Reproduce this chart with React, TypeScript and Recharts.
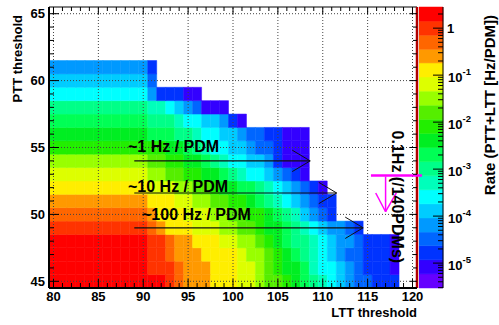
import React from 'react';
import { ComposedChart, XAxis, YAxis, ReferenceArea, ReferenceLine, ReferenceDot } from 'recharts';

const FONT = '"Liberation Sans", Arial, Helvetica, sans-serif';

// contour colours, lowest rate band first
const PALETTE = [
  '#6600ff', '#3300ff', '#0033ff', '#0066ff', '#0099ff', '#00ccff', '#00ffff', '#00ffbb', '#00ff88', '#00ff55',
  '#00ee22', '#22ee00', '#55ee00', '#99ff00', '#ddff00', '#ffee00', '#ff9900', '#ff6600', '#ff3300', '#ff0000',
];

// log10 of the contour edges on the colour bar
const BAND_EDGES = [
  -5.53, -5.23, -4.93, -4.63, -4.34, -4.04, -3.74, -3.44, -3.14, -2.84, -2.54,
  -2.24, -1.94, -1.64, -1.34, -1.04, -0.74, -0.45, -0.15, 0.15, 0.45,
];

const LTT_FIRST = 80;
const PTT_ROWS = [45, 46, 47, 48, 49, 50, 51, 52, 53, 54, 55, 56, 57, 58, 59, 60, 61];

// colour band of each cell, LTT threshold 80, 81, ... for one PTT threshold
const ptt45 = [19, 19, 19, 19, 19, 19, 19, 19, 19, 19, 19, 19, 19, 18, 17, 16, 16, 16, 15, 15, 15, 14, 14, 13, 12, 12, 11, 10, 9, 8, 7, 6, 5, 4, 3, 3, 2, 2, 2];
const ptt46 = [19, 19, 19, 19, 19, 19, 19, 19, 19, 19, 19, 18, 18, 18, 17, 16, 16, 16, 15, 15, 15, 14, 14, 13, 12, 11, 10, 10, 9, 7, 6, 6, 5, 4, 3, 2, 2, 2, 1];
const ptt47 = [19, 19, 19, 19, 19, 19, 19, 19, 19, 19, 19, 18, 18, 17, 16, 16, 16, 15, 15, 15, 15, 14, 13, 13, 12, 11, 10, 9, 8, 7, 6, 5, 4, 3, 3, 2, 2, 2, 1];
const ptt48 = [19, 19, 19, 19, 19, 19, 19, 19, 19, 19, 19, 18, 18, 17, 16, 16, 15, 15, 15, 14, 14, 13, 13, 12, 11, 10, 9, 8, 8, 7, 6, 5, 4, 4, 3, 2, 2, 2, 1];
const ptt49 = [18, 18, 18, 18, 18, 18, 18, 18, 18, 18, 18, 17, 16, 15, 15, 15, 14, 14, 14, 13, 13, 12, 12, 11, 10, 10, 9, 8, 7, 6, 5, 4, 4, 3, 2];
const ptt50 = [17, 17, 17, 17, 17, 17, 17, 17, 17, 17, 17, 16, 15, 15, 15, 14, 14, 14, 13, 13, 12, 12, 11, 11, 10, 9, 8, 7, 5, 4, 3, 2];
const ptt51 = [16, 16, 16, 16, 16, 16, 16, 16, 16, 16, 16, 15, 15, 15, 14, 14, 13, 13, 12, 12, 11, 11, 10, 9, 8, 7, 6, 5, 4, 3, 2, 2];
const ptt52 = [15, 15, 15, 15, 15, 15, 15, 15, 15, 15, 15, 14, 14, 14, 13, 13, 12, 12, 11, 10, 10, 9, 9, 8, 7, 6, 5, 4, 3, 2, 1];
const ptt53 = [14, 14, 14, 14, 14, 14, 14, 14, 14, 14, 14, 13, 13, 12, 12, 11, 11, 10, 10, 9, 8, 7, 6, 6, 5, 4, 3, 2, 1];
const ptt54 = [13, 13, 13, 13, 13, 13, 13, 13, 13, 13, 13, 12, 12, 11, 11, 10, 10, 9, 8, 7, 6, 6, 5, 5, 4, 2, 1, 1, 1];
const ptt55 = [11, 11, 11, 11, 11, 11, 11, 11, 11, 11, 11, 11, 11, 10, 10, 9, 8, 7, 6, 6, 5, 5, 4, 3, 3, 2, 1, 1, 1];
const ptt56 = [10, 10, 10, 10, 10, 10, 10, 10, 10, 10, 10, 9, 9, 9, 8, 8, 7, 6, 6, 5, 5, 4, 3, 3, 2, 2, 1, 1, 1];
const ptt57 = [9, 9, 9, 9, 9, 9, 9, 9, 9, 9, 9, 8, 8, 8, 7, 6, 6, 5, 5, 4, 2, 1];
const ptt58 = [8, 8, 8, 8, 8, 8, 8, 8, 8, 8, 8, 7, 7, 6, 5, 4, 3, 1, 1, 1];
const ptt59 = [6, 6, 6, 6, 6, 6, 6, 6, 6, 6, 6, 4, 2, 2, 2, 1, 1];
const ptt60 = [5, 5, 5, 5, 5, 5, 5, 5, 5, 5, 5, 3];
const ptt61 = [4, 4, 4, 4, 4, 4, 4, 4, 4, 4, 4, 2];

const RATE_BANDS = [ptt45, ptt46, ptt47, ptt48, ptt49, ptt50, ptt51, ptt52, ptt53, ptt54, ptt55, ptt56, ptt57, ptt58, ptt59, ptt60, ptt61];

const LTT_TICKS = [80, 81, 82, 83, 84, 85, 86, 87, 88, 89, 90, 91, 92, 93, 94, 95, 96, 97, 98, 99, 100,
  101, 102, 103, 104, 105, 106, 107, 108, 109, 110, 111, 112, 113, 114, 115, 116, 117, 118, 119, 120];
const PTT_TICKS = [45, 46, 47, 48, 49, 50, 51, 52, 53, 54, 55, 56, 57, 58, 59, 60, 61, 62, 63, 64, 65];
const LTT_GRID = [80, 85, 90, 95, 100, 105, 110, 115, 120];
const PTT_GRID = [45, 50, 55, 60, 65];
const RATE_DECADES = [1e-6, 1e-5, 1e-4, 1e-3, 1e-2, 1e-1, 1];
const MINOR_STEPS = [2, 3, 4, 5, 6, 7, 8, 9];

// annotated rate contours: text position, arrow height and span
const RATE_ARROWS = [
  { label: '~1 Hz / PDM', textLtt: 88.3, textPtt: 54.68, ptt: 54.0, from: 89.0, to: 108.6 },
  { label: '~10 Hz / PDM', textLtt: 88.3, textPtt: 51.71, ptt: 51.6, from: 89.0, to: 111.55 },
  { label: '~100 Hz / PDM', textLtt: 89.86, textPtt: 49.59, ptt: 49.0, from: 89.0, to: 114.5 },
];
// 0.1 Hz over 140 PDMs limit marker
const LIMIT = { ptt: 52.9, from: 115.37, to: 121.05, arrowLtt: 117.0, arrowTo: 50.2, textLtt: 117.71, textPtt: 51.31 };

const CHART_W = 499;
const CHART_H = 325;
const M_TOP = 7;
const M_RIGHT = 82;
const Y_W = 49;
const X_H = 37;
const PLOT_W = CHART_W - M_RIGHT - Y_W;
const PLOT_H = CHART_H - M_TOP - X_H;

const CELLS = RATE_BANDS.flatMap((row, r) =>
  row.map((band, i) => ({ ltt: LTT_FIRST + i, ptt: PTT_ROWS[r], band })));

const RATE_MIN = Math.pow(10, BAND_EDGES[0]);
const RATE_MAX = Math.pow(10, BAND_EDGES[BAND_EDGES.length - 1]);
const RATE_TICKS = RATE_DECADES.flatMap((d) => [d, ...MINOR_STEPS.map((m) => m * d)])
  .filter((v) => v >= RATE_MIN && v <= RATE_MAX);
const BANDS = BAND_EDGES.slice(0, -1).map((lo, k) => ({ lo: Math.pow(10, lo), hi: Math.pow(10, BAND_EDGES[k + 1]), color: PALETTE[k] }));

const txt = { fontFamily: FONT, fontWeight: 700, fill: '#000' } as const;

function XTick(props: any) {
  const { x, y, payload } = props;
  const v = payload.value;
  const major = v % 5 === 0;
  return (
    <g>
      <line x1={x} y1={y} x2={x} y2={y - (major ? 9 : 5)} stroke="#000" />
      <line x1={x} y1={y - PLOT_H} x2={x} y2={y - PLOT_H + (major ? 7 : 4)} stroke="#000" />
      {major && <text x={x} y={y + 13} textAnchor="middle" fontSize={13} {...txt}>{v}</text>}
    </g>
  );
}

function YTick(props: any) {
  const { x, y, payload } = props;
  const v = payload.value;
  const major = v % 5 === 0;
  return (
    <g>
      <line x1={x} y1={y} x2={x + (major ? 10 : 5)} y2={y} stroke="#000" />
      <line x1={x + PLOT_W - (major ? 7 : 4)} y1={y} x2={x + PLOT_W} y2={y} stroke="#000" />
      {major && <text x={x - 4} y={y + 4.6} textAnchor="end" fontSize={13} {...txt}>{v}</text>}
    </g>
  );
}

function RateTick(props: any) {
  const { x, y, payload } = props;
  const v = payload.value;
  const e = Math.log10(v);
  const major = Math.abs(e - Math.round(e)) < 1e-6;
  return (
    <g>
      <line x1={x} y1={y} x2={x - (major ? 10 : 5)} y2={y} stroke="#000" />
      {major && (Math.round(e) === 0 ? (
        <text x={x + 4} y={y + 4.5} fontSize={13} {...txt}>1</text>
      ) : (
        <text x={x + 5} y={y + 6.5} fontSize={13} {...txt}>
          10<tspan dy={-7} fontSize={9.5}>{Math.round(e)}</tspan>
        </text>
      ))}
    </g>
  );
}

function XTitle(props: any) {
  const { viewBox } = props;
  return <text x={viewBox.x + viewBox.width} y={viewBox.y + 28.5} textAnchor="end" fontSize={13} {...txt}>LTT threshold</text>;
}

function YTitle(props: any) {
  const { viewBox } = props;
  const x = viewBox.x + 21.5;
  const y = viewBox.y + 8;
  return <text x={x} y={y} transform={`rotate(-90, ${x}, ${y})`} textAnchor="end" fontSize={13} {...txt}>PTT threshold</text>;
}

function RateTitle(props: any) {
  const { viewBox } = props;
  const x = viewBox.x + viewBox.width - 4;
  const y = viewBox.y + 8;
  return <text x={x} y={y} transform={`rotate(-90, ${x}, ${y})`} textAnchor="end" fontSize={15} {...txt}>Rate (PTT+LTT [Hz/PDM])</text>;
}

function PlainLabel(props: any) {
  const { viewBox, text } = props;
  return <text x={viewBox.x} y={viewBox.y} fontSize={16} {...txt}>{text}</text>;
}

function VerticalLabel(props: any) {
  const { viewBox, text } = props;
  const x = viewBox.x;
  const y = viewBox.y;
  return <text x={x} y={y} transform={`rotate(90, ${x}, ${y})`} textAnchor="middle" fontSize={16} {...txt}>{text}</text>;
}

function ColourBar() {
  return (
    <ComposedChart width={80} height={CHART_H} margin={{ top: M_TOP, right: 0, bottom: X_H, left: 0 }} data={BANDS}>
      {BANDS.map((b, k) => (
        <ReferenceArea key={k} x1={0} x2={1} y1={b.lo} y2={b.hi} fill={b.color} fillOpacity={1} stroke={b.color} strokeWidth={0.5} />
      ))}
      <XAxis type="number" dataKey="lo" domain={[0, 1]} allowDataOverflow hide />
      <YAxis
        orientation="right" type="number" scale="log" domain={[RATE_MIN, RATE_MAX]} allowDataOverflow
        ticks={RATE_TICKS} interval={0} width={56} tickSize={0} tickMargin={0} tickLine={false}
        axisLine={{ stroke: '#000' }} tick={<RateTick />} label={<RateTitle />}
      />
    </ComposedChart>
  );
}

function Heatmap() {
  const dotted = { stroke: '#444', strokeDasharray: '1 2', strokeWidth: 1 };
  return (
    <ComposedChart width={CHART_W} height={CHART_H} margin={{ top: M_TOP, right: M_RIGHT, bottom: 0, left: 0 }} data={CELLS}>
      {CELLS.map((c) => (
        <ReferenceArea
          key={`${c.ltt}-${c.ptt}`}
          x1={c.ltt - 0.5} x2={c.ltt + 0.5} y1={c.ptt - 0.5} y2={c.ptt + 0.5}
          fill={PALETTE[c.band]} fillOpacity={1} stroke={PALETTE[c.band]} strokeWidth={0.5}
        />
      ))}
      {LTT_GRID.map((v) => <ReferenceLine key={`gx${v}`} x={v} {...dotted} />)}
      {PTT_GRID.map((v) => <ReferenceLine key={`gy${v}`} y={v} {...dotted} />)}
      <ReferenceLine y={65.5} stroke="#000" strokeWidth={1} />
      <ReferenceLine x={120.5} stroke="#b00000" strokeWidth={2.5} />

      {RATE_ARROWS.map((a) => (
        <React.Fragment key={a.label}>
          <ReferenceLine segment={[{ x: a.from, y: a.ptt }, { x: a.to, y: a.ptt }]} stroke="#111" strokeWidth={1.2} />
          <ReferenceLine segment={[{ x: a.to - 2, y: a.ptt + 0.8 }, { x: a.to, y: a.ptt }]} stroke="#111" strokeWidth={1} />
          <ReferenceLine segment={[{ x: a.to - 2, y: a.ptt - 0.8 }, { x: a.to, y: a.ptt }]} stroke="#111" strokeWidth={1} />
          <ReferenceDot x={a.textLtt} y={a.textPtt} r={0} fill="none" stroke="none" label={<PlainLabel text={a.label} />} />
        </React.Fragment>
      ))}

      <ReferenceLine segment={[{ x: LIMIT.from, y: LIMIT.ptt }, { x: LIMIT.to, y: LIMIT.ptt }]} stroke="#ff00ff" strokeWidth={2.5} ifOverflow="visible" />
      <ReferenceLine segment={[{ x: LIMIT.arrowLtt, y: LIMIT.ptt - 0.07 }, { x: LIMIT.arrowLtt, y: LIMIT.arrowTo }]} stroke="#ff00ff" strokeWidth={1.5} />
      <ReferenceLine segment={[{ x: LIMIT.arrowLtt - 1.1, y: LIMIT.arrowTo + 1.4 }, { x: LIMIT.arrowLtt, y: LIMIT.arrowTo }]} stroke="#ff00ff" strokeWidth={1.5} />
      <ReferenceLine segment={[{ x: LIMIT.arrowLtt + 1.2, y: LIMIT.arrowTo + 1.4 }, { x: LIMIT.arrowLtt, y: LIMIT.arrowTo }]} stroke="#ff00ff" strokeWidth={1.5} />
      <ReferenceDot x={LIMIT.textLtt} y={LIMIT.textPtt} r={0} fill="none" stroke="none" label={<VerticalLabel text="0.1Hz (/140PDMs)" />} />

      <XAxis
        type="number" dataKey="ltt" domain={[79.5, 120.5]} allowDataOverflow ticks={LTT_TICKS} interval={0}
        height={X_H} tickSize={0} tickMargin={0} tickLine={false}
        axisLine={{ stroke: '#000', strokeWidth: 2 }} tick={<XTick />} label={<XTitle />}
      />
      <YAxis
        type="number" dataKey="ptt" domain={[44.5, 65.5]} allowDataOverflow ticks={PTT_TICKS} interval={0}
        width={Y_W} tickSize={0} tickMargin={0} tickLine={false}
        axisLine={{ stroke: '#000', strokeWidth: 2 }} tick={<YTick />} label={<YTitle />}
      />
    </ComposedChart>
  );
}

export default function App() {
  return (
    <div style={{ position: 'absolute', left: 0, top: 0, width: CHART_W, height: CHART_H, background: '#fff', overflow: 'hidden' }}>
      <div style={{ position: 'absolute', left: Y_W + PLOT_W + 2, top: 0 }}>
        <ColourBar />
      </div>
      <div style={{ position: 'absolute', left: 0, top: 0 }}>
        <Heatmap />
      </div>
    </div>
  );
}
